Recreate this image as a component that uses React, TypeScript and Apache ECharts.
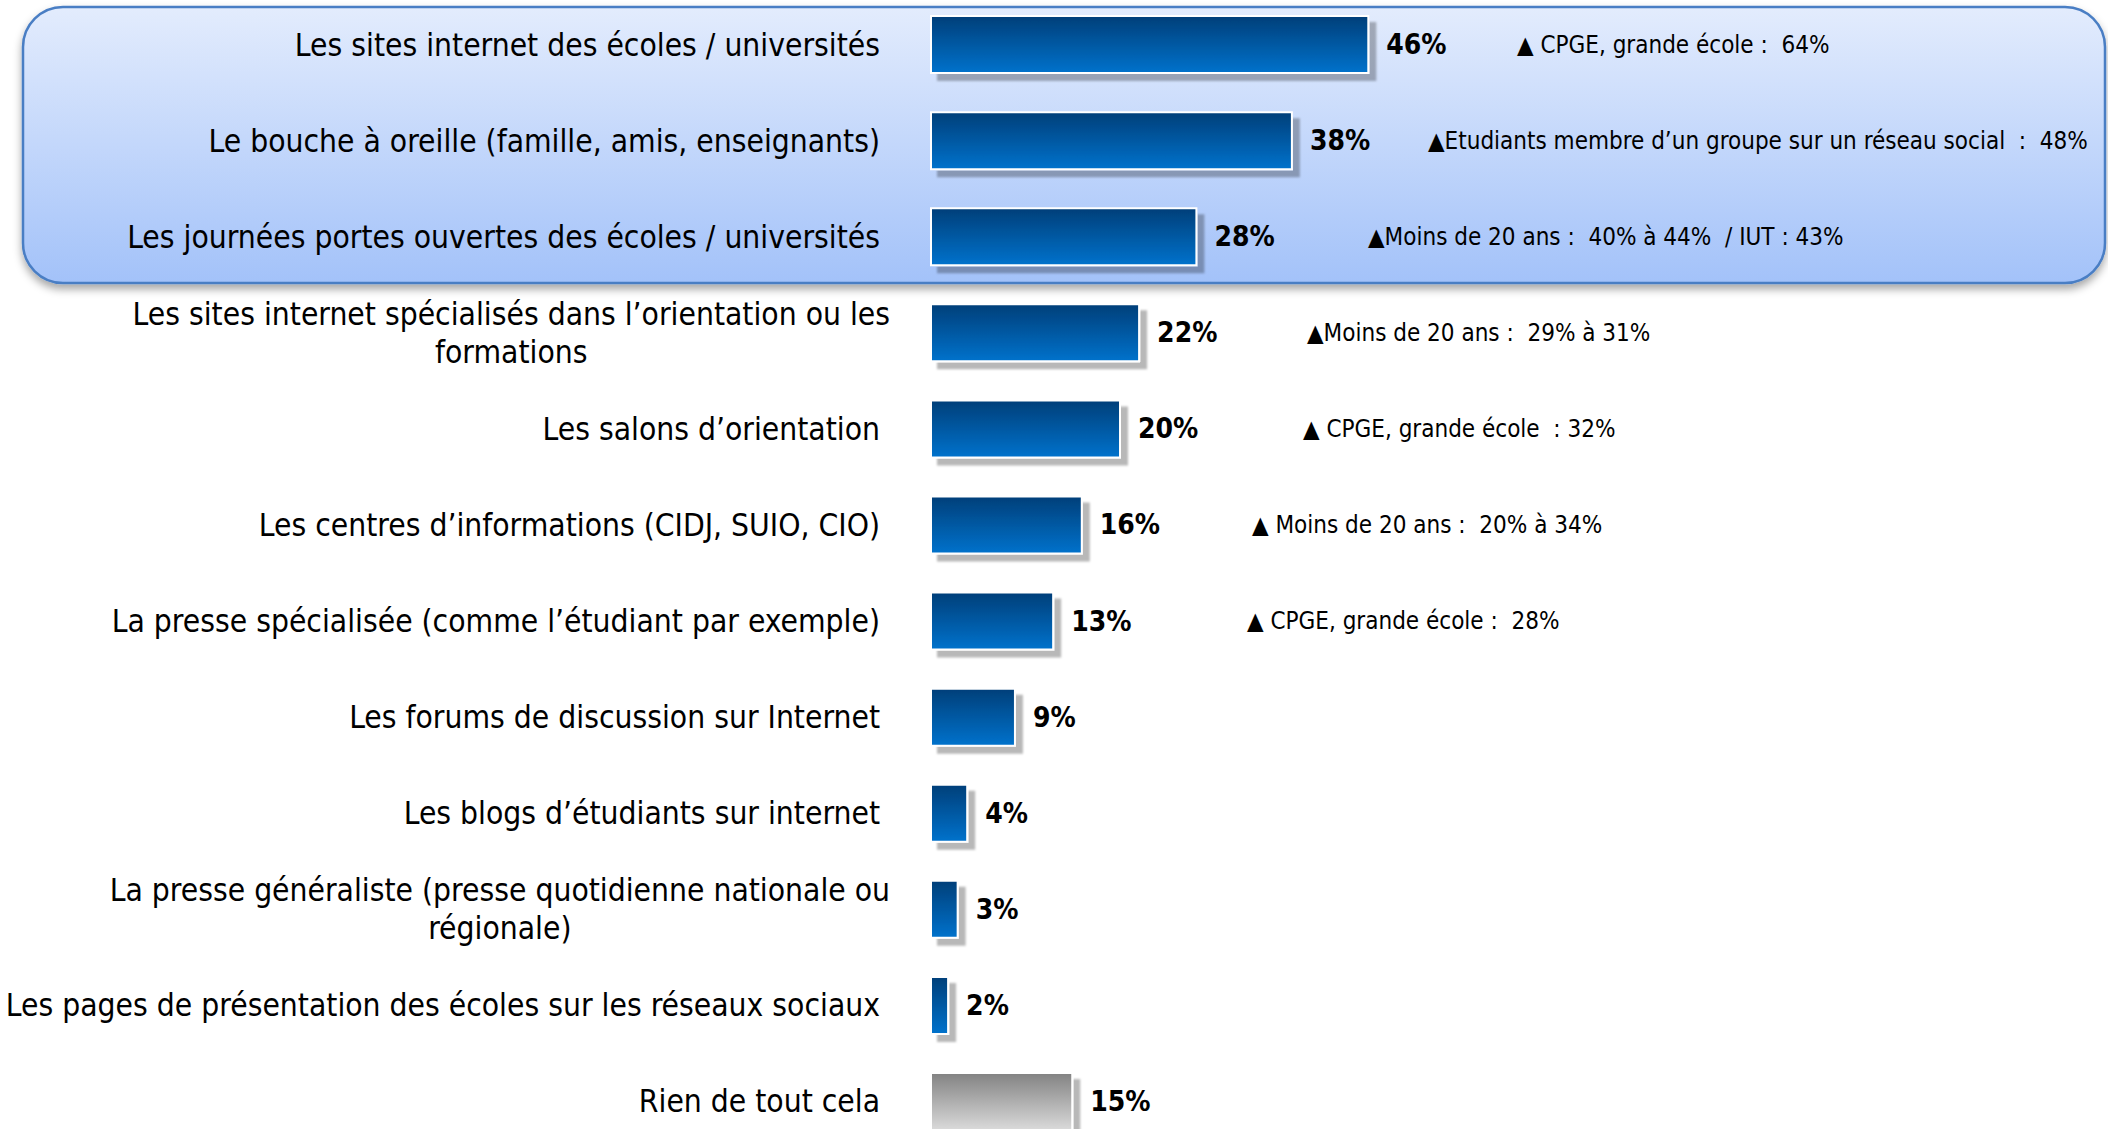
import React, { useEffect, useRef } from 'react';
import * as echarts from 'echarts';

const categories = [
  'Les sites internet des écoles / universités',
  'Le bouche à oreille (famille, amis, enseignants)',
  'Les journées portes ouvertes des écoles / universités',
  'Les sites internet spécialisés dans l’orientation ou les\nformations',
  'Les salons d’orientation',
  'Les centres d’informations (CIDJ, SUIO, CIO)',
  'La presse spécialisée (comme l’étudiant par exemple)',
  'Les forums de discussion sur Internet',
  'Les blogs d’étudiants sur internet',
  'La presse généraliste (presse quotidienne nationale ou\nrégionale)',
  'Les pages de présentation des écoles sur les réseaux sociaux',
  'Rien de tout cela',
];
const values = [46, 38, 28, 22, 20, 16, 13, 9, 4, 3, 2, 15];
const neutralRows = [false, false, false, false, false, false, false, false, false, false, false, true];
const annotations = [
  '▲ CPGE, grande école :  64%',
  '▲Etudiants membre d’un groupe sur un réseau social  :  48%',
  '▲Moins de 20 ans :  40% à 44%  / IUT : 43%',
  '▲Moins de 20 ans :  29% à 31%',
  '▲ CPGE, grande école  : 32%',
  '▲ Moins de 20 ans :  20% à 34%',
  '▲ CPGE, grande école :  28%',
];
const annotationX = [1517, 1428, 1368, 1307, 1303, 1252, 1247];

const FONT = '"DejaVu Sans Condensed", "Liberation Sans", sans-serif';
const CAT_SIZE = 31.5;

export default function App() {
  const ref = useRef<HTMLDivElement>(null);
  useEffect(() => {
    const chart = echarts.init(ref.current!, null, { renderer: 'svg' });
    const ctx = document.createElement('canvas').getContext('2d')!;
    ctx.font = `${CAT_SIZE}px ${FONT}`;
    const yData = categories.map((c) => {
      if (!c.includes('\n')) return c;
      const w = Math.max(...c.split('\n').map((l) => ctx.measureText(l).width));
      return { value: c, textStyle: { align: 'center', padding: [0, w - 20, 0, 0] } };
    });
    const blue = new echarts.graphic.LinearGradient(0, 0, 0, 1, [
      { offset: 0, color: '#003f79' },
      { offset: 1, color: '#0072cc' },
    ]);
    const gray = new echarts.graphic.LinearGradient(0, 0, 0, 1, [
      { offset: 0, color: '#828282' },
      { offset: 1, color: '#dadada' },
    ]);
    chart.setOption({
      animation: false,
      backgroundColor: '#ffffff',
      grid: { left: 930, width: 955, top: -3.5, height: 1153, containLabel: false, outerBoundsMode: 'none' },
      xAxis: { type: 'value', min: 0, max: 100, show: false },
      yAxis: {
        type: 'category',
        inverse: true,
        data: yData,
        axisLine: { show: false },
        axisTick: { show: false },
        axisLabel: {
          interval: 0,
          margin: 50,
          color: '#000',
          fontSize: CAT_SIZE,
          fontFamily: FONT,
          lineHeight: 38,
        },
      },
      series: [
        {
          type: 'bar',
          barWidth: 59,
          z: 5,
          data: values.map((v, i) => ({
            value: v,
            itemStyle: {
              color: neutralRows[i] ? gray : blue,
            },
          })),
          itemStyle: {
            borderColor: '#ffffff',
            borderWidth: 2,
            shadowColor: 'rgba(0,0,0,0.28)',
            shadowBlur: 2,
            shadowOffsetX: 7,
            shadowOffsetY: 7,
          },
          label: {
            show: true,
            position: 'right',
            distance: 17,
            formatter: '{c}%',
            color: '#000',
            fontSize: 28,
            fontWeight: 'bold',
            fontFamily: FONT,
          },
        },
      ],
    });
    const texts = annotations.map((t, i) => ({
      type: 'text',
      z: 20,
      x: annotationX[i],
      y: chart.convertToPixel({ yAxisIndex: 0 }, categories[i]) as number,
      style: { text: t, fill: '#000', font: `24px ${FONT}`, textAlign: 'left', textVerticalAlign: 'middle' },
    }));
    chart.setOption({
      graphic: [
        {
          type: 'rect',
          z: 0,
          shape: { x: 23, y: 7, width: 2082, height: 276, r: 40 },
          style: {
            fill: new echarts.graphic.LinearGradient(0, 0, 0, 1, [
              { offset: 0, color: '#e3ecfd' },
              { offset: 1, color: '#a3c2f9' },
            ]),
            stroke: '#4a7ec4',
            lineWidth: 2.5,
            shadowColor: 'rgba(0,0,0,0.35)',
            shadowBlur: 8,
            shadowOffsetY: 5,
          },
        },
        ...texts,
      ],
    });
    return () => chart.dispose();
  }, []);
  return (
    <div
      ref={ref}
      style={{ position: 'fixed', left: 0, top: 0, width: 2108, height: 1129, background: '#fff' }}
    />
  );
}
